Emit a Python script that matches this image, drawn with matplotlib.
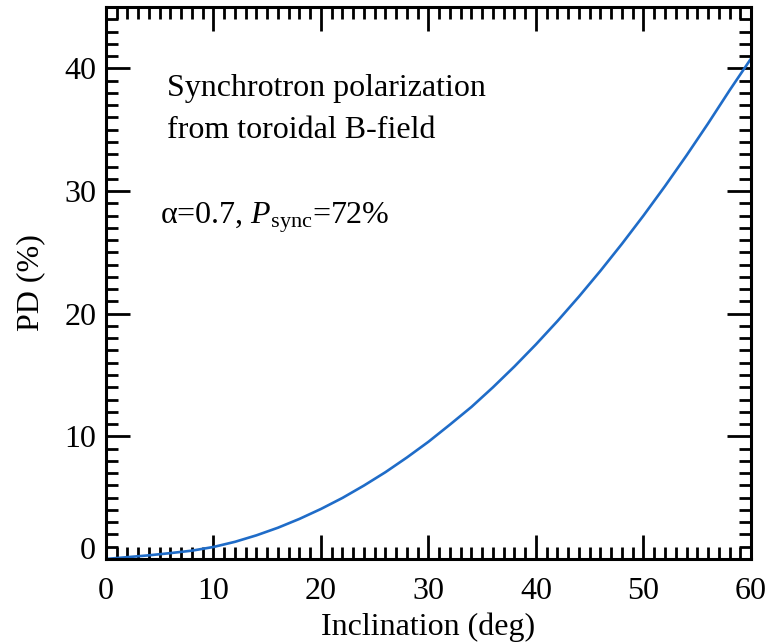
import numpy as np
import matplotlib
matplotlib.use("Agg")
import matplotlib.pyplot as plt
from matplotlib.ticker import MultipleLocator
from matplotlib.transforms import ScaledTranslation

# Polarization degree vs. inclination for a toroidal field
inclination = [0, 2, 4, 6, 8, 10, 12, 14, 16, 18, 20, 22, 24, 26, 28, 30,
               32, 34, 36, 38, 40, 42, 44, 46, 48, 50, 52, 54, 56, 58, 60]
pd_percent = [0.0, 0.15, 0.30, 0.48, 0.68, 0.98, 1.40, 1.93, 2.55, 3.27, 4.08,
              4.98, 5.99, 7.08, 8.28, 9.56, 10.96, 12.4, 14.0, 15.7, 17.5,
              19.4, 21.4, 23.5, 25.7, 28.0, 30.4, 32.9, 35.5, 38.2, 40.8]

x_ticks = [0, 10, 20, 30, 40, 50, 60]
y_ticks = [0, 10, 20, 30, 40]

plt.rcParams["font.family"] = ["Liberation Serif", "DejaVu Serif"]
plt.rcParams["mathtext.fontset"] = "custom"
plt.rcParams["mathtext.rm"] = "Liberation Serif"
plt.rcParams["mathtext.it"] = "Liberation Serif:italic"

fig = plt.figure(figsize=(7.69, 6.42), dpi=100)
ax = fig.add_axes([0.1378, 0.1293, 0.8388, 0.8597])

ax.plot(inclination, pd_percent, color="#1f6cc8", lw=1.9)

ax.set_xlim(0, 60)
ax.set_ylim(0, 45)
ax.set_xticks(x_ticks)
ax.set_yticks(y_ticks)
ax.xaxis.set_minor_locator(MultipleLocator(1))
ax.yaxis.set_minor_locator(MultipleLocator(1))

for sp in ax.spines.values():
    sp.set_linewidth(2.2)
ax.tick_params(which="both", direction="in", top=True, right=True, width=2.0,
               labelsize=23)
ax.tick_params(which="major", length=17.5)
ax.tick_params(which="minor", length=8.5)
ax.tick_params(axis="x", pad=13)
ax.tick_params(axis="y", pad=7)

ax.set_xlabel("Inclination (deg)", fontsize=23, labelpad=5)
ax.set_ylabel("PD (%)", fontsize=23, labelpad=14)

ax.text(5.65, 38.4, "Synchrotron polarization", fontsize=23, va="center")
ax.text(5.65, 34.9, "from toroidal B-field", fontsize=23, va="center")
ax.text(5.0, 27.8, r"α=0.7, $P_{\rm sync}$=72%", fontsize=23, va="center")

# lift the "0" label on the y axis clear of the corner
t0 = ax.yaxis.get_major_ticks()[0]
t0.label1.set_transform(t0.label1.get_transform()
                        + ScaledTranslation(0, 0.11, fig.dpi_scale_trans))

fig.savefig("out.png", dpi=100)
